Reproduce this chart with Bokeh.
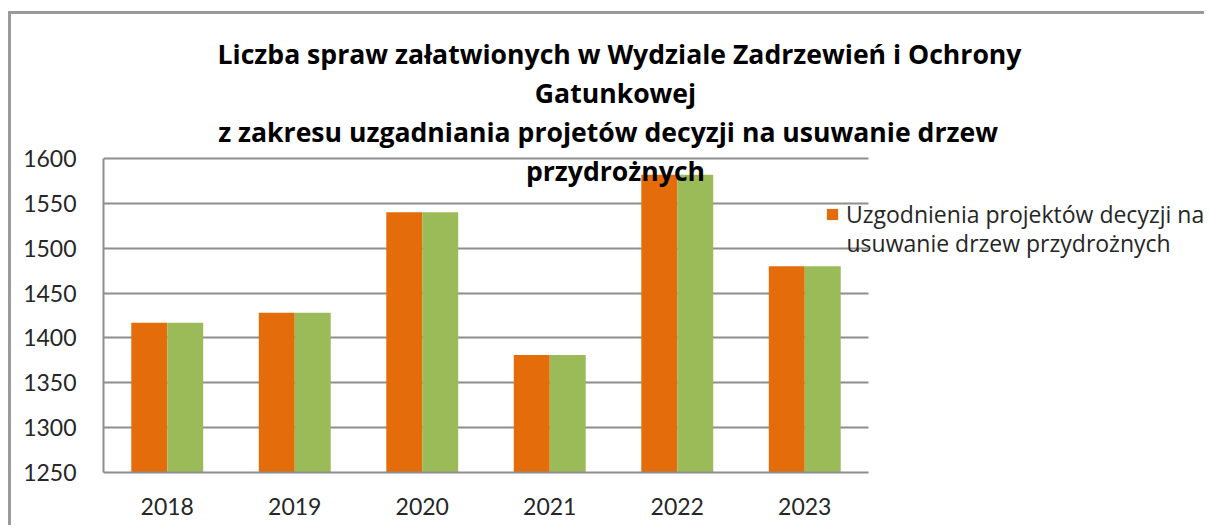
from bokeh.plotting import figure
from bokeh.models import (Range1d, Legend, LegendItem, Label, ColumnDataSource,
                          SingleIntervalTicker, FixedTicker)
from bokeh.transform import dodge
from bokeh.embed import file_html
from bokeh.resources import INLINE

# ---- data ----
years = ["2018", "2019", "2020", "2021", "2022", "2023"]
uzgodnienia = [1417, 1428, 1540, 1381, 1582, 1480]
uzgodnienia_b = [1417, 1428, 1540, 1381, 1582, 1480]
series_label = "Uzgodnienia projektów decyzji na"
series_label_2 = "usuwanie drzew przydrożnych"
title_lines = [
    "Liczba spraw załatwionych w Wydziale Zadrzewień i Ochrony",
    "Gatunkowej",
    "z zakresu uzgadniania  projetów decyzji na usuwanie drzew",
    "przydrożnych",
]
y_min, y_max, y_step = 1250, 1600, 50

# ---- style ----
ORANGE = "#E46C0A"
GREEN = "#9BBB59"
GRID = "#8e8e8e"
TXT = "#262626"
FONT = "Lato"
FONT2 = "Open Sans"

W, H = 1196, 514
LEFT = 92            # frame left (canvas px)
AXIS_Y = 458         # x-axis line (canvas px)
PLOT_W = 765         # width of the category area
PLOT_H = 314         # height of the value area
px_per_cat = PLOT_W / len(years)
px_per_unit = PLOT_H / (y_max - y_min)

frame_w = W - LEFT
x_end = frame_w / px_per_cat
y_end = y_min + AXIS_Y / px_per_unit

pos = [i + 0.5 for i in range(len(years))]
src = ColumnDataSource(dict(x=pos, a=uzgodnienia, b=uzgodnienia_b))

p = figure(
    x_range=Range1d(0, x_end), y_range=Range1d(y_min, y_end),
    width=W, height=H,
    min_border_left=LEFT, min_border_right=0,
    min_border_top=0, min_border_bottom=H - AXIS_Y,
    output_backend="svg", toolbar_location=None,
    styles={"margin-top": "11px", "margin-left": "8px",
            "border-top": "3px solid #9a9a9a",
            "border-left": "3px solid #9a9a9a"},
)
p.outline_line_color = None
p.background_fill_color = "white"
p.border_fill_color = "white"

r1 = p.vbar(x=dodge("x", -0.141), top="a", bottom=y_min, width=0.282,
            source=src, fill_color=ORANGE, line_color=None)
r2 = p.vbar(x=dodge("x", 0.141), top="b", bottom=y_min, width=0.282,
            source=src, fill_color=GREEN, line_color=None)

# axes
for ax in (p.xaxis[0], p.yaxis[0]):
    ax.axis_line_color = GRID
    ax.axis_line_width = 2
    ax.major_tick_in = 0
    ax.major_tick_out = 0
    ax.minor_tick_in = 0
    ax.minor_tick_out = 0
    ax.major_label_text_font = FONT
    ax.major_label_text_font_size = "23px"
    ax.major_label_text_color = TXT
p.yaxis.ticker = SingleIntervalTicker(interval=y_step, num_minor_ticks=0)
p.yaxis.bounds = (y_min, y_max)
p.yaxis.major_label_standoff = 27
p.xaxis.ticker = FixedTicker(ticks=pos, minor_ticks=[])
p.xaxis.major_label_overrides = {x: y for x, y in zip(pos, years)}
p.xaxis.bounds = (0, len(years))
p.xaxis.major_label_standoff = 25

p.xgrid.grid_line_color = None
g = p.ygrid[0]
if "cross_bounds" in g.properties():
    g.grid_line_color = GRID
    g.grid_line_width = 2
    g.cross_bounds = (0, len(years))
else:
    g.grid_line_color = None
    ticks = list(range(y_min + y_step, y_max + 1, y_step))
    p.segment(x0=[0] * len(ticks), x1=[len(years)] * len(ticks), y0=ticks, y1=ticks,
              line_color=GRID, line_width=2, level="underlay")

# title (frame-relative screen units)
BOFF = 10
title_pos = [(516, 409 + BOFF), (512, 370 + BOFF), (508, 331 + BOFF), (512, 292 + BOFF)]
for txt, (tx, ty) in zip(title_lines, title_pos):
    p.add_layout(Label(x=tx, y=ty, x_units="screen", y_units="screen", text=txt,
                       text_font=FONT2, text_font_style="bold", text_font_size="26.6px",
                       text_color="black", text_align="center",
                       text_baseline="alphabetic"))

# legend
legend = Legend(items=[LegendItem(label=series_label, renderers=[r1])],
                location=(722, 242), padding=0, margin=0, spacing=0,
                glyph_width=14, glyph_height=14, label_standoff=7,
                label_height=28,
                label_text_font=FONT2, label_text_font_size="23px",
                label_text_color=TXT,
                border_line_color=None, background_fill_alpha=0)
p.add_layout(legend, "center")
p.add_layout(Label(x=743, y=220 + BOFF, x_units="screen", y_units="screen",
                   text=series_label_2, text_font=FONT2, text_font_size="23px",
                   text_color=TXT, text_baseline="alphabetic"))

open("out.html", "w").write(file_html(p, INLINE))
